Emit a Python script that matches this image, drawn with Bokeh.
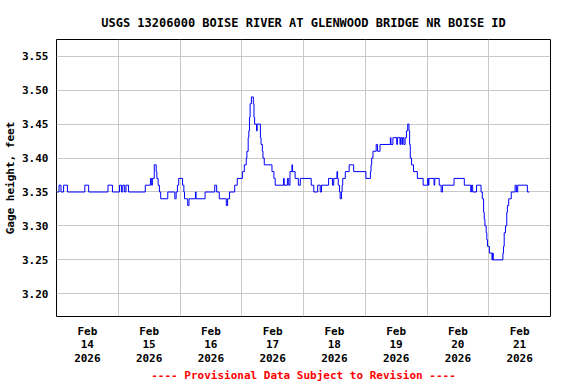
import pandas as pd
from bokeh.plotting import figure
from bokeh.models import FixedTicker, DatetimeTickFormatter, Range1d, PrintfTickFormatter
from bokeh.embed import file_html
from bokeh.resources import INLINE

# Gage height step changes: hours after 2026-02-14 00:00, value in feet
hours = [0.25, 1.0, 1.75, 2.75, 4.25, 11.0, 12.5, 20.0, 21.75, 24.5, 25.25, 25.75, 26.5, 27.0, 28.0,
         34.5, 36.5, 37.0, 37.25, 38.0, 38.75, 39.0, 39.5, 40.0, 40.5, 43.25, 46.0, 46.5, 47.0, 47.5,
         49.0, 49.5, 49.75, 50.25, 51.0, 51.5, 54.0, 54.25, 57.75, 61.5, 62.25, 63.25, 65.5, 66.0, 66.5,
         67.25, 69.25, 70.25, 72.25, 73.0, 73.75, 74.0, 74.5, 74.75, 75.0, 75.25, 75.75, 76.5, 76.75,
         77.0, 77.75, 78.0, 79.25, 79.5, 80.0, 80.25, 80.75, 83.75, 84.5, 85.0, 88.25, 88.5, 89.75, 90.25,
         90.75, 91.5, 91.75, 92.75, 94.0, 94.75, 99.0, 100.0, 101.5, 102.5, 103.0, 105.75, 107.25, 107.75,
         109.0, 109.25, 109.5, 110.0, 110.25, 110.75, 111.0, 111.25, 112.25, 113.75, 115.5, 120.25,
         122.0, 122.25, 122.5, 123.0, 124.25, 124.75, 125.75, 129.75, 130.0, 130.75, 132.25, 132.5,
         133.5, 133.75, 134.25, 134.5, 135.0, 135.5, 136.0, 136.5, 137.0, 137.25, 137.5, 138.0, 138.75,
         140.25, 142.5, 144.25, 144.5, 144.75, 146.75, 147.0, 148.75, 149.5, 150.0, 154.5, 158.5, 161.0,
         161.25, 161.75, 163.25, 165.0, 165.5, 166.0, 166.25, 166.5, 167.0, 167.25, 167.5, 168.25,
         169.25, 169.5, 169.75, 173.5, 173.75, 174.0, 174.5, 175.0, 175.25, 175.75, 176.75, 178.25,
         178.75, 179.25, 183.0, 183.75]
gage_ft = [3.35, 3.36, 3.35, 3.36, 3.35, 3.36, 3.35, 3.36, 3.35, 3.36, 3.35, 3.36, 3.35, 3.36, 3.35,
           3.36, 3.37, 3.36, 3.37, 3.39, 3.38, 3.37, 3.36, 3.35, 3.34, 3.35, 3.34, 3.35, 3.36, 3.37,
           3.36, 3.35, 3.34, 3.34, 3.33, 3.34, 3.35, 3.34, 3.35, 3.36, 3.35, 3.34, 3.34, 3.33, 3.34,
           3.35, 3.36, 3.37, 3.38, 3.39, 3.40, 3.41, 3.43, 3.44, 3.46, 3.48, 3.49, 3.48, 3.46,
           3.45, 3.44, 3.45, 3.43, 3.42, 3.41, 3.40, 3.39, 3.38, 3.37, 3.36, 3.37, 3.36, 3.37, 3.36,
           3.38, 3.39, 3.38, 3.37, 3.36, 3.37, 3.36, 3.35, 3.36, 3.35, 3.36, 3.37, 3.36, 3.37,
           3.38, 3.37, 3.36, 3.35, 3.34, 3.35, 3.36, 3.37, 3.38, 3.39, 3.38, 3.37,
           3.38, 3.39, 3.40, 3.41, 3.42, 3.41, 3.42, 3.43, 3.42, 3.43, 3.42, 3.43,
           3.42, 3.43, 3.42, 3.43, 3.42, 3.43, 3.44, 3.45, 3.44, 3.42, 3.40, 3.39, 3.38,
           3.37, 3.36, 3.37, 3.36, 3.37, 3.36, 3.37, 3.36, 3.35, 3.36, 3.37, 3.36, 3.35,
           3.36, 3.35, 3.36, 3.35, 3.34, 3.32, 3.31, 3.30, 3.29, 3.28, 3.27, 3.26,
           3.25, 3.26, 3.25, 3.26, 3.27, 3.29, 3.30, 3.32, 3.33, 3.34, 3.35, 3.36,
           3.35, 3.36, 3.35, 3.35]

start_date = "2026-02-14"
y_ticks = [3.20, 3.25, 3.30, 3.35, 3.40, 3.45, 3.50, 3.55]
y_min, y_max = 3.1666, 3.5746
n_days = 8

title_text = "USGS 13206000 BOISE RIVER AT GLENWOOD BRIDGE NR BOISE ID"
y_label = "Gage height, feet"
footer_text = "---- Provisional Data Subject to Revision ----"

base = pd.Timestamp(start_date)
times = [base + pd.Timedelta(hours=h) for h in hours]

FONT = "DejaVu Sans Mono"

p = figure(frame_width=494, frame_height=277, x_axis_type="datetime", output_backend="svg",
           toolbar_location=None, min_border_left=56, min_border_right=7,
           min_border_top=39, min_border_bottom=52)
p.x_range = Range1d(base, base + pd.Timedelta(days=n_days))
p.y_range = Range1d(y_min, y_max)

p.step(times, gage_ft, mode="after", line_color="#0000ff", line_width=1)

p.title.text = title_text
p.title.align = "center"
p.title.text_font = FONT
p.title.text_font_size = "12px"
p.title.text_font_style = "bold"
p.title.text_color = "black"
p.title.standoff = 19

noon_ticks = [(base + pd.Timedelta(days=d, hours=12)).value / 1e6 for d in range(n_days)]
midnight_ticks = [(base + pd.Timedelta(days=d)).value / 1e6 for d in range(1, n_days)]

fmt = "%b\n%d\n%Y"
p.xaxis.ticker = FixedTicker(ticks=noon_ticks)
p.xaxis.formatter = DatetimeTickFormatter(days=fmt, months=fmt, hours=fmt, years=fmt,
                                          hourmin=fmt, minutes=fmt, minsec=fmt, seconds=fmt,
                                          milliseconds=fmt, microseconds=fmt)
p.xgrid.ticker = FixedTicker(ticks=midnight_ticks)
p.yaxis.ticker = FixedTicker(ticks=y_ticks)
p.yaxis.formatter = PrintfTickFormatter(format="%.2f")

for ax in (p.xaxis[0], p.yaxis[0]):
    ax.axis_line_color = None
    ax.major_tick_line_color = None
    ax.minor_tick_line_color = None
    ax.major_tick_out = 0
    ax.major_tick_in = 0
    ax.minor_tick_out = 0
    ax.major_label_text_font = FONT
    ax.major_label_text_font_size = "11px"
    ax.major_label_text_font_style = "bold"
    ax.major_label_text_color = "black"

p.xaxis.major_label_text_line_height = 1.05
p.xaxis.major_label_standoff = 8
p.yaxis.major_label_standoff = 8
p.yaxis.axis_label = y_label
p.yaxis.axis_label_text_font = FONT
p.yaxis.axis_label_text_font_size = "11px"
p.yaxis.axis_label_text_font_style = "bold"
p.yaxis.axis_label_text_color = "black"
p.yaxis.axis_label_standoff = 2

p.xaxis.axis_label = footer_text
p.xaxis.axis_label_text_font = FONT
p.xaxis.axis_label_text_font_size = "11px"
p.xaxis.axis_label_text_font_style = "bold"
p.xaxis.axis_label_text_color = "#ff0000"
p.xaxis.axis_label_standoff = 1

p.xgrid.grid_line_color = "#c8c8c8"
p.ygrid.grid_line_color = "#c8c8c8"
p.outline_line_color = "black"
p.outline_line_width = 1
p.background_fill_color = "white"
p.border_fill_color = "white"

open("out.html", "w").write(file_html(p, INLINE))
